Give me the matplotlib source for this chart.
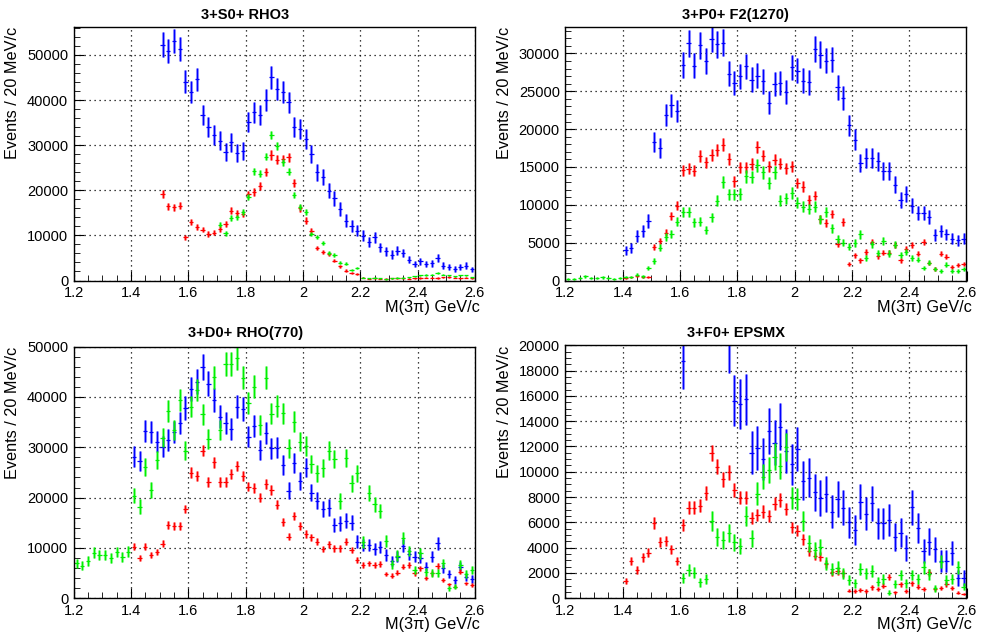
import numpy as np
import matplotlib
matplotlib.use("Agg")
import matplotlib.pyplot as plt
from matplotlib.ticker import MultipleLocator, FormatStrFormatter

plt.rcParams['font.family'] = ['Liberation Sans', 'DejaVu Sans']

# bin centres, 20 MeV bins from 1.2 to 2.6 GeV
mass = np.round(np.arange(1.21, 2.60, 0.02), 2)
nan = np.nan

# ---- 3+S0+ RHO3 (values start at 1.51 / 1.71)
s0_blue = [52250, 50900, 53100, 51300, 44060, 41850, 44650, 36680, 33950, 32300,
           31000, 28560, 30630, 28270, 28780, 35200, 37270, 36680, 40070, 45020,
           42500, 41700, 39480, 34100, 33600, 31370, 28040, 23990, 22880, 19930,
           18230, 15870, 13280, 12180, 11070, 9960, 8490, 9590, 7380, 6490,
           5760, 6640, 6130, 4650, 3690, 4280, 3690, 3840, 4940, 3320,
           2950, 2580, 3100, 3320, 2440]
s0_red = [19190, 16460, 16240, 16600, 9590, 12900, 11960, 11290, 10330, 10630,
          11370, 12550, 15500, 14910, 14760, 19110, 19560, 20890, 23990, 27820,
          26790, 26940, 27300, 21550, 16010, 13280, 10920, 7160, 6270, 5900,
          4430, 3170, 2210, 1700, 1480, 590, 370, 520, 440, 400,
          450, 500, 480, 420, 500, 560, 600, 650, 550, 700,
          740, 620, 500, 600, 550]
s0_green = [12320, 10480, 13870, 14020, 15130, 18450, 24210, 23620, 27450, 32320,
            29890, 26200, 24130, 19040, 16380, 15130, 10330, 9590, 8340, 6130,
            5680, 3910, 3690, 2360, 2800, 590, 520, 590, 520, 300,
            520, 660, 660, 740, 890, 1110, 1250, 1330, 1620, 1330,
            1110, 890, 1110, 1110, 740]

# ---- 3+P0+ F2(1270) (values start at 1.41 / 1.21)
p0_blue = [3990, 4300, 5860, 6520, 7850, 18320, 17520, 21870, 23160, 22400,
           28480, 31370, 28390, 31060, 28970, 31940, 31190, 31410, 27290, 26090,
           26970, 28300, 26530, 27060, 26310, 23510, 25960, 26090, 24930, 28170,
           27730, 26400, 26180, 30610, 29860, 29060, 29200, 25510, 24090, 20500,
           18630, 15530, 16190, 16190, 15750, 14420, 14420, 12640, 10650, 11450,
           9890, 8960, 8960, 8430, 5990, 6520, 6080, 5550, 5320, 5550]
p0_red = [350, 400, 580, 440, 440, 4440, 5240, 6340, 8520, 9890,
          14550, 14780, 14510, 16420, 15620, 16550, 17220, 17970, 16060, 13090,
          14950, 14950, 15400, 17610, 16500, 15080, 15970, 15440, 14860, 15080,
          12870, 12420, 10650, 11220, 8080, 7630, 8790, 4880, 7760, 2220,
          3330, 2660, 3770, 5100, 3190, 3680, 3680, 4660, 2660, 4210,
          4660, 3550, 5100, 2350, 1550, 3550, 3110, 1770, 2090, 2220]
p0_green = [220, 220, 350, 530, 310, 310, 400, 310, 220, 350,
            440, 440, 750, 530, 1690, 2570, 4300, 5770, 6120, 7760,
            9010, 9010, 7680, 7760, 6650, 8340, 10560, 12960, 11400, 11400,
            11450, 13750, 13660, 15220, 14290, 12870, 14290, 10520, 10870, 11540,
            10290, 9760, 9410, 9760, 8080, 9010, 6880, 5460, 5010, 4440,
            4970, 6080, 2970, 4790, 3640, 5240, 3550, 4750, 3330, 3770,
            3020, 2750, 1640, 2350, 1550, 1240, 2090, 1240, 1240, 1550]

# ---- 3+D0+ RHO(770) (values start at 1.41 / 1.21)
d0_blue = [28150, 27350, 33310, 33110, 31130, 30130, 31460, 32980, 34770, 37750,
           41590, 43050, 45890, 42580, 39400, 36090, 34770, 33640, 38080, 37620,
           32120, 34240, 29470, 32910, 29800, 29930, 26490, 21390, 26950, 23310,
           25960, 20990, 19400, 17750, 18010, 14570, 14900, 15430, 15030, 11260,
           10600, 10600, 9740, 10260, 8610, 7420, 8280, 10460, 8740, 8280,
           8080, 6290, 8280, 10930, 5960, 4830, 3640, 6290, 4170, 3840]
d0_red = [10260, 8080, 10260, 8610, 9210, 10860, 14570, 14440, 14440, 17750,
          24970, 24300, 29340, 23180, 27020, 23180, 23180, 24640, 26290, 24300,
          22190, 21850, 20000, 22720, 21460, 18540, 15230, 12250, 16360, 14440,
          12780, 12120, 11260, 9740, 10730, 9930, 9930, 11260, 9600, 7620,
          6620, 6950, 6620, 6820, 4830, 4500, 5100, 6290, 6620, 4970,
          5960, 3970, 4970, 6420, 3640, 2780, 2320, 5300, 2980, 2650]
d0_green = [6950, 6490, 7420, 9070, 8540, 8540, 8080, 9210, 8280, 9270,
            20400, 18210, 26030, 21520, 27480, 31920, 37220, 33440, 39340, 29270,
            38080, 41390, 36560, 31590, 43910, 33440, 46490, 46490, 47810, 43840,
            38740, 42050, 34440, 43840, 36620, 38210, 36750, 29800, 35100, 31130,
            30260, 26620, 24830, 25830, 29270, 27620, 19340, 27810, 22850, 24830,
            11130, 20860, 18680, 17350, 11390, 6750, 8480, 12050, 9400, 5630,
            8940, 5300, 4970, 4970, 6950, 1990, 2320, 6620, 4770, 5630]

# ---- 3+F0+ EPSMX (values start at 1.61 / 1.41 / 1.61)
f0_blue = [18760, nan, nan, nan, nan, nan, nan, nan, 20100, 15630,
           15340, 15730, 11510, 11860, 10990, 13230, 12310, 13570, 11670, 10590,
           11800, 9280, 9540, 8380, 7910, 8250, 6850, 7850, 7170, 6010,
           5400, 7640, 6670, 7510, 5930, 5930, 6190, 4870, 5190, 4000,
           7190, 5530, 3740, 4480, 3870, 2980, 2980, 3560, 1580, 1630]
f0_red = [1370, 2950, 2240, 3240, 3610, 5980, 4430, 4530, 3870, 2950,
          5800, 7170, 7170, 7300, 8300, 11510, 10410, 9410, 9960, 8560,
          7960, 7960, 6380, 6590, 6850, 6530, 7460, 7770, 7060, 5610,
          5350, 4660, 3740, 3350, 3290, 2710, 2060, 2160, 1980, 610,
          580, 660, 580, 870, 740, 1000, 1660, 470, 1110, 580,
          1190, 920, 740, 2060, 740, 790, 1130, 790, 450, 340]
f0_green = [1630, 2240, 2030, 1260, 1530, 6110, 4870, 4610, 5140, 4430,
            4160, 6510, 4740, 8250, 9620, 10150, 11200, 10460, 11940, 7910,
            7850, 6110, 4350, 3820, 4080, 2770, 2290, 2420, 1980, 1450,
            1190, 2320, 1980, 2160, 1320, 1500, 450, 1110, 1840, 1190,
            1840, 1500, 2450, 1900, 790, 2900, 1450, 1530, 2450, 920]

titles = ["3+S0+ RHO3", "3+P0+ F2(1270)", "3+D0+ RHO(770)", "3+F0+ EPSMX"]
ymaxes = [56200, 33500, 50000, 20000]
ymajor = [10000, 5000, 10000, 2000]
yminor = [2000, 1000, 2000, 500]

# (values, first bin centre, error scale) per colour
panels = [
    [(s0_blue, 1.51, 12), (s0_red, 1.51, 6), (s0_green, 1.71, 5)],
    [(p0_blue, 1.41, 10), (p0_red, 1.41, 6), (p0_green, 1.21, 7)],
    [(d0_blue, 1.41, 12), (d0_red, 1.41, 6.5), (d0_green, 1.21, 11)],
    [(f0_blue, 1.61, 16), (f0_red, 1.41, 6), (f0_green, 1.61, 10)],
]
colors = ['#0000ff', '#ff0000', '#00f000']


def full(values, start):
    # put the values on the 70-bin grid, empty bins stay NaN
    y = np.full(len(mass), np.nan)
    i0 = int(round((start - 1.21) / 0.02))
    y[i0:i0 + len(values)] = values
    return y


fig = plt.figure(figsize=(9.81, 6.42), dpi=100)
W, H = 981.0, 642.0
boxes = [(73.7, 27, 474.8, 280.5), (565.4, 27, 966.5, 280.5),
         (73.7, 346.5, 474.8, 598.3), (565.4, 345.3, 966.5, 598.3)]

for k in range(4):
    x0, y0, x1, y1 = boxes[k]
    ax = fig.add_axes([x0 / W, 1 - y1 / H, (x1 - x0) / W, (y1 - y0) / H])
    for (vals, start, escale), col in zip(panels[k], colors):
        y = full(vals, start)
        err = escale * np.sqrt(np.nan_to_num(y))
        # soft halo on the vertical bars, then the thin cross on top
        ax.errorbar(mass, y, yerr=err, fmt='none', ecolor=col,
                    elinewidth=2.2, alpha=0.4, capsize=0)
        ax.errorbar(mass, y, yerr=err, xerr=0.0075, fmt='none', ecolor=col,
                    elinewidth=0.9, capsize=0)
    ax.set_xlim(1.2, 2.6)
    ax.set_ylim(0, ymaxes[k])
    ax.xaxis.set_major_locator(MultipleLocator(0.2))
    ax.xaxis.set_minor_locator(MultipleLocator(0.05))
    ax.xaxis.set_major_formatter(FormatStrFormatter('%g'))
    ax.yaxis.set_major_locator(MultipleLocator(ymajor[k]))
    ax.yaxis.set_minor_locator(MultipleLocator(yminor[k]))
    ax.tick_params(which='both', direction='in', top=False, right=False,
                   labelsize=10.5, colors='black', pad=4)
    ax.tick_params(which='major', length=7)
    ax.tick_params(which='minor', length=4)
    ax.grid(True, which='major', color='black', linestyle=(0, (1, 3)), lw=0.9)
    for s in ax.spines.values():
        s.set_linewidth(1.0)
    ax.set_xlabel("M(3\u03c0) GeV/c", fontsize=11.7, loc='right')
    ax.xaxis.set_label_coords(1.013, -0.075)
    ax.set_ylabel("Events / 20 MeV/c", fontsize=11.7, loc='top')
    ax.yaxis.set_label_coords(-0.134, 1.0)
    # title centred on the pad, not the frame
    cx = 0.25 if k % 2 == 0 else 0.75
    ty = 15 if k < 2 else 333
    fig.text(cx, 1 - ty / H, titles[k], ha='center', va='center',
             fontsize=10.5, fontweight='bold')

fig.savefig("out.png", dpi=100)
